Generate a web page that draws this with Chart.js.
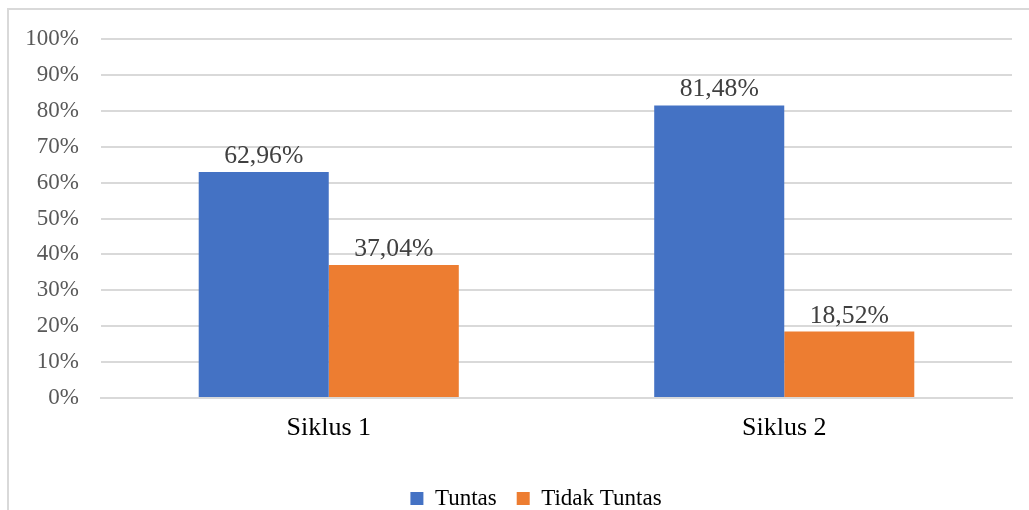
<!DOCTYPE html>
<html>
<head>
<meta charset="utf-8">
<script src="https://cdn.jsdelivr.net/npm/chart.js@4/dist/chart.umd.min.js"></script>
<style>
  html, body { margin: 0; padding: 0; background: #fff; }
  #wrap { width: 1029px; height: 510px; position: relative; }
</style>
</head>
<body>
<div id="wrap"><canvas id="c" width="1029" height="510"></canvas></div>
<script>
const categories = ["Siklus 1", "Siklus 2"];
const tuntas = [62.96, 81.48];
const tidakTuntas = [37.04, 18.52];
const seriesNames = ["Tuntas", "Tidak Tuntas"];

const fmt = v => v.toFixed(2).replace('.', ',') + '%';
const SERIF = '"Liberation Serif", "Times New Roman", serif';

const frame = {
  id: 'frame',
  beforeDraw(chart) {
    const ctx = chart.ctx;
    ctx.save();
    ctx.fillStyle = '#fff';
    ctx.fillRect(0, 0, chart.width, chart.height);
    ctx.strokeStyle = '#d9d9d9';
    ctx.lineWidth = 2;
    ctx.strokeRect(8, 9, 1100, 600);
    ctx.restore();
  }
};

const shiftLegend = {
  id: 'shiftLegend',
  afterLayout(chart) {
    if (chart.legend) {
      chart.legend.left += 30;
      chart.legend.right += 30;
    }
  }
};

const dataLabels = {
  id: 'dataLabels',
  afterDatasetsDraw(chart) {
    const ctx = chart.ctx;
    ctx.save();
    ctx.font = '25.7px ' + SERIF;
    ctx.fillStyle = '#404040';
    ctx.textAlign = 'center';
    ctx.textBaseline = 'alphabetic';
    chart.data.datasets.forEach((ds, i) => {
      chart.getDatasetMeta(i).data.forEach((bar, j) => {
        ctx.fillText(fmt(ds.data[j]), bar.x, bar.y - 9);
      });
    });
    ctx.restore();
  }
};

new Chart(document.getElementById('c'), {
  type: 'bar',
  data: {
    labels: categories,
    datasets: [
      { label: seriesNames[0], data: tuntas, backgroundColor: '#4472C4' },
      { label: seriesNames[1], data: tidakTuntas, backgroundColor: '#ED7D31' }
    ]
  },
  options: {
    responsive: false,
    animation: false,
    devicePixelRatio: 1,
    layout: { padding: { top: 39, right: 17, left: 0, bottom: -10 } },
    datasets: { bar: { categoryPercentage: 0.571, barPercentage: 1.0 } },
    plugins: {
      legend: {
        position: 'bottom',
        labels: {
          boxWidth: 13, boxHeight: 13, padding: 20,
          color: '#000',
          font: { family: SERIF, size: 23 }
        }
      },
      tooltip: { enabled: false }
    },
    scales: {
      x: {
        grid: { display: false, drawTicks: false },
        border: { display: true, color: '#d9d9d9', width: 2 },
        ticks: {
          color: '#000', padding: 15,
          font: { family: SERIF, size: 26 }
        },
        afterFit(s) { s.height = 69; }
      },
      y: {
        min: 0, max: 100,
        ticks: {
          stepSize: 10,
          color: '#595959', padding: 22,
          callback: v => v + '%',
          font: { family: SERIF, size: 23 }
        },
        grid: { color: '#d9d9d9', lineWidth: 2, drawTicks: false },
        border: { display: false },
        afterFit(s) { s.width = 101; }
      }
    }
  },
  plugins: [frame, shiftLegend, dataLabels]
});
</script>
</body>
</html>
